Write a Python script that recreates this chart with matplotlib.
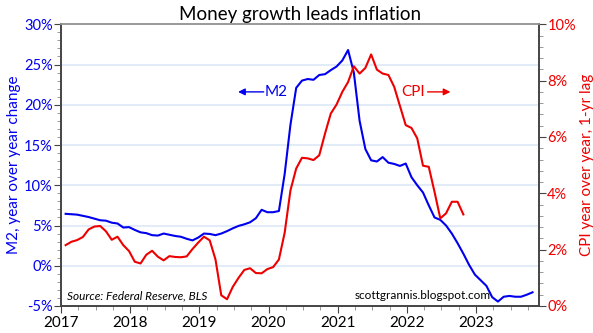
import matplotlib
matplotlib.use("Agg")
import matplotlib.pyplot as plt
from matplotlib.ticker import MultipleLocator, FuncFormatter
import numpy as np

# monthly values, Jan 2017 onwards
m2_growth = [6.45, 6.4, 6.35, 6.2, 6.05, 5.85, 5.65, 5.6, 5.35, 5.25, 4.75, 4.8,
             4.45, 4.15, 4.05, 3.8, 3.75, 4.0, 3.85, 3.7, 3.6, 3.35, 3.15, 3.5,
             4.0, 3.95, 3.8, 4.0, 4.3, 4.65, 4.95, 5.15, 5.4, 5.9, 6.95, 6.65,
             6.65, 6.8, 11.4, 17.5, 22.1, 23.0, 23.2, 23.1, 23.7, 23.8, 24.3, 24.75,
             25.5, 26.8, 24.0, 18.0, 14.5, 13.1, 12.95, 13.5, 12.8, 12.65, 12.4, 12.7,
             11.0, 10.0, 9.1, 7.5, 6.0, 5.7, 5.0, 4.0, 2.8, 1.5, 0.1, -1.1,
             -1.8, -2.5, -3.9, -4.45, -3.85, -3.75, -3.85, -3.85, -3.6, -3.3]

# CPI yoy, shifted back one year
cpi_lagged = [2.16, 2.28, 2.34, 2.45, 2.72, 2.82, 2.84, 2.65, 2.35, 2.46, 2.16, 1.95,
              1.57, 1.51, 1.82, 1.96, 1.75, 1.62, 1.77, 1.74, 1.73, 1.76, 2.02, 2.25,
              2.46, 2.33, 1.65, 0.38, 0.24, 0.68, 1.0, 1.28, 1.34, 1.17, 1.16, 1.31,
              1.38, 1.65, 2.6, 4.1, 4.88, 5.26, 5.24, 5.18, 5.35, 6.12, 6.83, 7.15,
              7.6, 7.95, 8.51, 8.25, 8.45, 8.93, 8.39, 8.25, 8.2, 7.78, 7.1, 6.42,
              6.32, 5.95, 4.98, 4.94, 4.05, 3.11, 3.29, 3.70, 3.70, 3.25]

years = [2017, 2018, 2019, 2020, 2021, 2022, 2023]

BLUE = "#0000ee"
RED = "#ee0000"
GRID = "#dce9f7"
SPINE = "#444444"

x_m2 = 2017 + (np.arange(len(m2_growth)) + 0.8) / 12
x_cpi = 2017 + (np.arange(len(cpi_lagged)) + 0.8) / 12

plt.rcParams['font.family'] = ['Lato', 'DejaVu Sans']

fig = plt.figure(figsize=(5.93, 3.33), dpi=100)
ax = fig.add_axes([0.1029, 0.0811, 0.806, 0.846])
ax2 = ax.twinx()

ax.set_xlim(2017, 2023.91)
ax.set_ylim(-5, 30)
ax2.set_ylim(0, 10)

# grid from the left axis
for v in range(0, 30, 5):
    ax.axhline(v, color=GRID, lw=1.2, zorder=0)

ax.plot(x_m2, m2_growth, color=BLUE, lw=1.5, zorder=3)
ax2.plot(x_cpi, cpi_lagged, color=RED, lw=1.5, zorder=3)

ax.xaxis.set_minor_locator(MultipleLocator(0.25))
ax.xaxis.set_major_formatter(FuncFormatter(lambda v, p: "%d" % round(v)))
ax.set_xticks(years)

ax.yaxis.set_major_locator(MultipleLocator(5))
ax.yaxis.set_minor_locator(MultipleLocator(1))
ax.yaxis.set_major_formatter(FuncFormatter(lambda v, p: "%d%%" % round(v)))
ax2.yaxis.set_major_locator(MultipleLocator(2))
ax2.yaxis.set_minor_locator(MultipleLocator(0.4))
ax2.yaxis.set_major_formatter(FuncFormatter(lambda v, p: "%d%%" % round(v)))

ax.tick_params(axis='x', which='major', length=5, color=SPINE, labelsize=11, pad=2)
ax.tick_params(axis='x', which='minor', length=3, color="#888888")
ax.tick_params(axis='y', which='major', length=5, color=SPINE, labelcolor=BLUE, labelsize=10.5, pad=1)
ax.tick_params(axis='y', which='minor', length=3, color="#888888")
ax2.tick_params(axis='y', which='major', length=5, color=SPINE, labelcolor=RED, labelsize=10.5, pad=1)
ax2.tick_params(axis='y', which='minor', length=3, color="#888888")

for a in (ax, ax2):
    a.spines['left'].set_color(SPINE)
    a.spines['right'].set_color(SPINE)
    a.spines['bottom'].set_color(SPINE)
    a.spines['top'].set_color("#999999")
    for s in a.spines.values():
        s.set_linewidth(1.2)

ax.set_ylabel("M2, year over year change", color=BLUE, fontsize=11, labelpad=2)
ax2.set_ylabel("CPI year over year, 1-yr lag", color=RED, fontsize=11, labelpad=3)

ax.set_title("Money growth leads inflation", fontsize=13.5, pad=3)

# series labels with arrows
arrow_kw = dict(arrowstyle="-|>", lw=1, mutation_scale=10, shrinkA=0, shrinkB=0)
ax.annotate("", xy=(2019.56, 21.6), xytext=(2019.93, 21.6),
            arrowprops=dict(color=BLUE, **arrow_kw))
ax.text(2019.95, 21.6, "M2", color=BLUE, fontsize=11, va='center', ha='left')
ax.text(2022.26, 21.6, "CPI", color=RED, fontsize=11, va='center', ha='right')
ax.annotate("", xy=(2022.63, 21.6), xytext=(2022.3, 21.6),
            arrowprops=dict(color=RED, **arrow_kw))

ax.text(2017.08, -3.7, "Source: Federal Reserve, BLS", fontsize=8.5, style='italic',
        va='center', ha='left')
ax.text(2023.21, -3.7, "scottgrannis.blogspot.com", fontsize=8.5,
        va='center', ha='right')

fig.savefig("out.png", dpi=100)
